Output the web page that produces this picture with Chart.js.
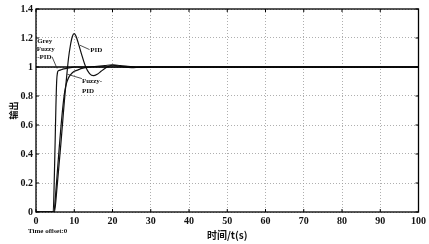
<!DOCTYPE html>
<html><head><meta charset="utf-8">
<script src="https://cdn.jsdelivr.net/npm/chart.js@4/dist/chart.umd.min.js"></script>
<style>html,body{margin:0;padding:0;background:#fff}#wrap{width:429px;height:244px}</style>
</head><body><div id="wrap"><canvas id="c" width="429" height="244"></canvas></div>
<script>
// Data (time in s, output)
const greyT   = [0, 4.5, 4.8, 5.0, 5.2, 5.4, 5.6, 5.9, 6.5, 7, 8, 9, 10, 12, 100];
const greyV   = [0, 0, 0.25, 0.48, 0.72, 0.9, 0.96, 0.975, 0.98, 0.985, 0.99, 0.995, 1.0, 1.0, 1.0];
const pidT    = [0, 4.8, 5.5, 6, 6.5, 7, 7.5, 8, 8.5, 9, 9.5, 10, 10.5, 11, 12, 13, 14, 15, 16, 17, 18, 19, 20, 21, 22, 23, 25, 27, 30, 100];
const pidV    = [0, 0, 0.17, 0.32, 0.47, 0.63, 0.79, 0.93, 1.06, 1.15, 1.21, 1.23, 1.21, 1.17, 1.08, 1.0, 0.955, 0.94, 0.95, 0.97, 0.99, 1.005, 1.012, 1.01, 1.005, 1.0, 0.995, 0.998, 1.0, 1.0];
const fuzzyT  = [0, 4.7, 5, 5.5, 6, 6.5, 7, 7.5, 8, 8.5, 9, 10, 11, 12, 14, 16, 18, 20, 22, 24, 27, 100];
const fuzzyV  = [0, 0, 0.08, 0.25, 0.42, 0.58, 0.72, 0.83, 0.89, 0.925, 0.945, 0.97, 0.98, 0.99, 1.0, 1.005, 1.01, 1.015, 1.01, 1.005, 1.0, 1.0];
const refT    = [0, 100];
const refV    = [1, 1];
const xTicks  = [0, 10, 20, 30, 40, 50, 60, 70, 80, 90, 100];
const yTicks  = [0, 0.2, 0.4, 0.6, 0.8, 1, 1.2, 1.4];

const pts = (t, v) => t.map((x, i) => ({x, y: v[i]}));
const serif = "'Liberation Serif','DejaVu Serif',serif";

const annot = {
  id: 'annot',
  afterDraw(chart) {
    const {ctx, scales: {x, y}, chartArea: a} = chart;
    ctx.save();
    ctx.setLineDash([]);
    // frame
    ctx.strokeStyle = '#000'; ctx.lineWidth = 1.3;
    ctx.strokeRect(a.left, a.top, a.right - a.left, a.bottom - a.top);
    // inward ticks on all sides
    ctx.lineWidth = 1;
    xTicks.forEach(t => { const px = x.getPixelForValue(t);
      ctx.beginPath(); ctx.moveTo(px, a.bottom); ctx.lineTo(px, a.bottom - 3);
      ctx.moveTo(px, a.top); ctx.lineTo(px, a.top + 3); ctx.stroke(); });
    yTicks.forEach(v => { const py = y.getPixelForValue(v);
      ctx.beginPath(); ctx.moveTo(a.left, py); ctx.lineTo(a.left + 3, py);
      ctx.moveTo(a.right, py); ctx.lineTo(a.right - 3, py); ctx.stroke(); });
    // curve labels
    ctx.fillStyle = '#111';
    ctx.font = 'bold 7px ' + serif;
    ctx.textBaseline = 'middle'; ctx.textAlign = 'left';
    const P = (t, v) => [x.getPixelForValue(t), y.getPixelForValue(v)];
    let p;
    p = P(0.3, 1.175); ctx.fillText('Grey', p[0], p[1]);
    p = P(0.2, 1.12); ctx.fillText('Fuzzy', p[0], p[1]);
    p = P(0.3, 1.065); ctx.fillText('-PID', p[0], p[1]);
    p = P(14.2, 1.115); ctx.fillText('PID', p[0], p[1]);
    p = P(12, 0.9); ctx.fillText('Fuzzy-', p[0], p[1]);
    p = P(12, 0.835); ctx.fillText('PID', p[0], p[1]);
    // leader lines
    ctx.lineWidth = 0.8; ctx.strokeStyle = '#222';
    let a1 = P(11.5, 1.15), b1 = P(14, 1.12);
    ctx.beginPath(); ctx.moveTo(a1[0], a1[1]); ctx.lineTo(b1[0], b1[1]); ctx.stroke();
    let a2 = P(8.2, 0.95), b2 = P(12, 0.92);
    ctx.beginPath(); ctx.moveTo(a2[0], a2[1]); ctx.lineTo(b2[0], b2[1]); ctx.stroke();
    let a3 = P(4.2, 1.07), b3 = P(5.5, 0.99);
    ctx.beginPath(); ctx.moveTo(a3[0], a3[1]); ctx.lineTo(b3[0], b3[1]); ctx.stroke();
    // time offset text
    ctx.fillText('Time offset:0', 28, 231);
    ctx.restore();
  }
};

new Chart(document.getElementById('c'), {
  type: 'line',
  data: {
    datasets: [
      {label: 'setpoint', data: pts(refT, refV), borderColor: '#000', borderWidth: 1.6, pointRadius: 0, tension: 0},
      {label: 'Grey Fuzzy-PID', data: pts(greyT, greyV), borderColor: '#111', borderWidth: 1.2, pointRadius: 0, cubicInterpolationMode: 'monotone'},
      {label: 'PID', data: pts(pidT, pidV), borderColor: '#111', borderWidth: 1.2, pointRadius: 0, cubicInterpolationMode: 'monotone'},
      {label: 'Fuzzy-PID', data: pts(fuzzyT, fuzzyV), borderColor: '#111', borderWidth: 1.2, pointRadius: 0, cubicInterpolationMode: 'monotone'}
    ]
  },
  options: {
    responsive: false, animation: false,
    layout: {padding: {top: 5, right: 9, left: 0, bottom: 0}},
    plugins: {legend: {display: false}, tooltip: {enabled: false}},
    scales: {
      x: {
        type: 'linear', min: 0, max: 100,
        afterBuildTicks: s => { s.ticks = xTicks.map(v => ({value: v})); },
        afterFit: s => { s.height = 32; },
        grid: {color: '#9a9a9a', lineWidth: 0.8, drawTicks: false},
        border: {display: false, dash: [1, 2]},
        ticks: {color: '#111', padding: 3, font: {family: serif, size: 10, weight: 'bold'}, maxRotation: 0, autoSkip: false},
        title: {display: true, text: '时间/t(s)', color: '#111', padding: {top: 0, bottom: 3}, font: {family: "'Noto Sans CJK SC',serif", size: 10, weight: 'bold'}}
      },
      y: {
        type: 'linear', min: 0, max: 1.4,
        afterBuildTicks: s => { s.ticks = yTicks.map(v => ({value: v})); },
        afterFit: s => { s.width = 36; },
        grid: {color: '#9a9a9a', lineWidth: 0.8, drawTicks: false},
        border: {display: false, dash: [1, 2]},
        ticks: {color: '#111', padding: 3, font: {family: serif, size: 10, weight: 'bold'}, autoSkip: false,
          callback: v => String(+v.toFixed(1))},
        title: {display: true, text: '输出', color: '#111', padding: {top: 8, bottom: 0}, font: {family: "'Noto Sans CJK SC',serif", size: 9, weight: 'bold'}}
      }
    }
  },
  plugins: [annot]
});
</script>
</body></html>
